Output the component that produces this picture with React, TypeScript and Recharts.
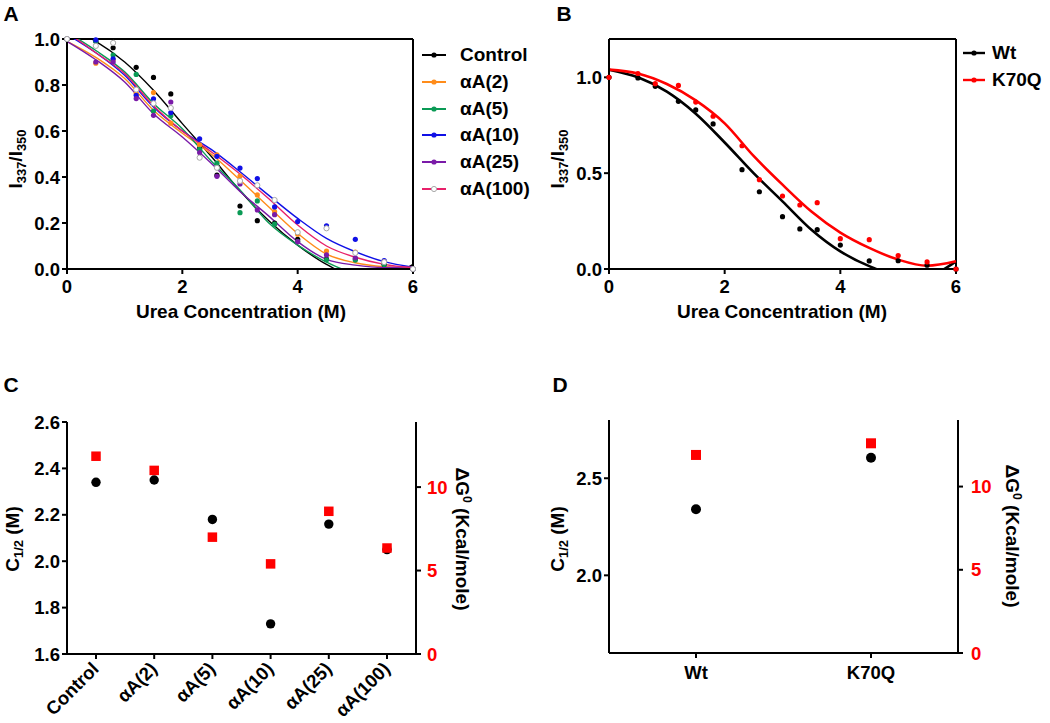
import React from 'react';
import { ComposedChart, Line, Scatter, XAxis, YAxis, ReferenceLine } from 'recharts';

const FONT = '"Liberation Sans", Arial, Helvetica, sans-serif';
const RED = '#ff0000';

// ---------- Panel A data ----------
const ureaA = [0, 0.5, 0.8, 1.2, 1.5, 1.8, 2.3, 2.6, 3.0, 3.3, 3.6, 4.0, 4.5, 5.0, 5.5, 6.0];
const controlA = [1.0, 0.99, 0.962, 0.877, 0.833, 0.761, 0.525, 0.408, 0.274, 0.21, 0.2, 0.129, 0.043, 0.043, 0.02, 0.0];
const aA2 = [1.0, 0.895, 0.91, 0.764, 0.767, 0.634, 0.54, 0.496, 0.404, 0.322, 0.25, 0.151, 0.078, 0.074, 0.03, 0.0];
const aA5 = [1.0, 0.99, 0.93, 0.846, 0.687, 0.666, 0.52, 0.46, 0.245, 0.296, 0.195, 0.12, 0.04, 0.039, 0.02, 0.0];
const aA10 = [1.0, 0.996, 0.914, 0.755, 0.74, 0.68, 0.566, 0.49, 0.439, 0.393, 0.27, 0.206, 0.188, 0.129, 0.037, 0.0];
const aA25 = [1.0, 0.9, 0.9, 0.741, 0.668, 0.726, 0.506, 0.403, 0.37, 0.257, 0.236, 0.119, 0.061, 0.049, 0.032, 0.0];
const aA100 = [1.0, 0.97, 0.983, 0.78, 0.72, 0.7, 0.484, 0.44, 0.383, 0.364, 0.3, 0.16, 0.177, 0.07, 0.03, 0.0];

const fitX = [0, 0.5, 1, 1.5, 2, 2.5, 3, 3.5, 4, 4.5, 5, 5.5, 6];
const controlFitA = [1.05, 0.99, 0.9, 0.777, 0.632, 0.49, 0.34, 0.21, 0.104, 0.02, -0.03, -0.03, 0.02];
const aA2Fit = [0.99, 0.92, 0.828, 0.69, 0.59, 0.5, 0.387, 0.27, 0.155, 0.065, 0.027, 0.01, 0.005];
const aA5Fit = [1.03, 0.95, 0.857, 0.72, 0.61, 0.47, 0.344, 0.2, 0.104, 0.03, -0.02, -0.04, -0.03];
const aA10Fit = [1.02, 0.94, 0.842, 0.704, 0.6, 0.52, 0.423, 0.32, 0.22, 0.133, 0.075, 0.032, 0.008];
const aA25Fit = [0.99, 0.91, 0.813, 0.675, 0.574, 0.46, 0.337, 0.23, 0.119, 0.042, 0.017, 0.007, 0.01];
const aA100Fit = [1.03, 0.94, 0.85, 0.71, 0.6, 0.51, 0.413, 0.305, 0.191, 0.1, 0.051, 0.02, 0.005];

const seriesNamesA = ['Control', 'αA(2)', 'αA(5)', 'αA(10)', 'αA(25)', 'αA(100)'];
const lineColorsA = ['#000000', '#ff8c1a', '#0a9a55', '#1010e6', '#7a1aa8', '#e8206a'];
const markerColorsA = ['#000000', '#ff8c1a', '#0a9a55', '#1010e6', '#7a1aa8', '#a8a8a8'];
const hollowA = [false, false, false, false, false, true];
const ptsA = [controlA, aA2, aA5, aA10, aA25, aA100];
const fitsA = [controlFitA, aA2Fit, aA5Fit, aA10Fit, aA25Fit, aA100Fit];

// ---------- Panel B data ----------
const ureaB = [0, 0.5, 0.8, 1.2, 1.5, 1.8, 2.3, 2.6, 3.0, 3.3, 3.6, 4.0, 4.5, 5.0, 5.5, 6.0];
const wtB = [1.0, 0.997, 0.953, 0.875, 0.83, 0.757, 0.518, 0.403, 0.273, 0.209, 0.205, 0.125, 0.042, 0.043, 0.02, 0.0];
const k70qB = [1.0, 1.02, 0.967, 0.958, 0.871, 0.797, 0.643, 0.466, 0.381, 0.334, 0.346, 0.158, 0.153, 0.07, 0.037, 0.0];
const wtFitB = [1.04, 1.0, 0.925, 0.81, 0.66, 0.5, 0.353, 0.205, 0.092, 0.015, -0.03, -0.03, 0.04];
const k70qFitB = [1.04, 1.02, 0.965, 0.88, 0.76, 0.59, 0.44, 0.3, 0.19, 0.11, 0.049, 0.017, 0.04];
const seriesNamesB = ['Wt', 'K70Q'];
const colorsB = ['#000000', RED];

// ---------- Panel C data ----------
const cCategories = ['Control', 'αA(2)', 'αA(5)', 'αA(10)', 'αA(25)', 'αA(100)'];
const cC12 = [2.34, 2.35, 2.18, 1.73, 2.16, 2.05];
const cDG = [11.85, 11.0, 7.0, 5.4, 8.55, 6.35];

// ---------- Panel D data ----------
const dCategories = ['Wt', 'K70Q'];
const dC12 = [2.34, 2.606];
const dDG = [11.9, 12.6];

const toPts = (xs: number[], ys: number[]) => xs.map((x, i) => ({ x, y: ys[i] }));

const axisLine = { stroke: '#000', strokeWidth: 2 };
const tickLine = { stroke: '#000', strokeWidth: 2 };
const tickFont = { fill: '#000', fontSize: 18.5, fontWeight: 700, fontFamily: FONT };
const redTickFont = { ...tickFont, fill: RED };

const dotShape = (r: number, fill: string, hollow = false) => (props: any) => (
  <circle
    cx={props.cx}
    cy={props.cy}
    r={r}
    fill={hollow ? '#ffffff' : fill}
    stroke={hollow ? fill : 'none'}
    strokeWidth={hollow ? 1 : 0}
  />
);
const squareShape = (s: number, fill: string) => (props: any) => (
  <rect x={props.cx - s / 2} y={props.cy - s / 2} width={s} height={s} fill={fill} />
);

const RotTick = (props: any) => {
  const { x, y, payload } = props;
  return (
    <g transform={`translate(${x + 4},${y + 9})`}>
      <text x={0} y={0} textAnchor="end" transform="rotate(-45)" fill="#000" fontSize={18.5} fontWeight={700} fontFamily={FONT}>
        {payload.value}
      </text>
    </g>
  );
};

const Txt = ({ cx, cy, rotate = 0, size = 19, color = '#000', children }: any) => (
  <div
    style={{
      position: 'absolute',
      left: cx,
      top: cy,
      transform: `translate(-50%,-50%) rotate(${rotate}deg)`,
      whiteSpace: 'nowrap',
      fontFamily: FONT,
      fontWeight: 700,
      fontSize: size,
      lineHeight: 1,
      color,
    }}
  >
    {children}
  </div>
);

const Sub = ({ children }: any) => (
  <span style={{ fontSize: '0.68em', position: 'relative', top: '0.3em' }}>{children}</span>
);
const Sup = ({ children }: any) => (
  <span style={{ fontSize: '0.65em', position: 'relative', top: '-0.55em' }}>{children}</span>
);

const LegendRow = ({ left, top, color, markerColor, hollow, label, lineW, strokeW, gap }: any) => (
  <div style={{ position: 'absolute', left, top, height: 20, display: 'flex', alignItems: 'center', transform: 'translateY(-50%)' }}>
    <svg width={lineW} height={10} style={{ display: 'block' }}>
      <line x1={0} y1={5} x2={lineW} y2={5} stroke={color} strokeWidth={strokeW} />
      <circle cx={lineW / 2} cy={5} r={2.6} fill={hollow ? '#fff' : markerColor} stroke={hollow ? markerColor : 'none'} strokeWidth={1} />
    </svg>
    <span style={{ marginLeft: gap, fontFamily: FONT, fontWeight: 700, fontSize: 19, color: '#000', whiteSpace: 'nowrap' }}>
      {label}
    </span>
  </div>
);

const cData = cCategories.map((name, i) => ({ name, c12: cC12[i], dg: cDG[i] }));
const dData = dCategories.map((name, i) => ({ name, c12: dC12[i], dg: dDG[i] }));

export default function App() {
  return (
    <div style={{ position: 'absolute', left: 0, top: 0, width: 1050, height: 723, background: '#fff', overflow: 'hidden' }}>
      {/* Panel A */}
      <div style={{ position: 'absolute', left: 0, top: 0 }}>
        <ComposedChart width={540} height={330} margin={{ top: 39, right: 127, bottom: 0, left: 27 }}>
          <XAxis type="number" dataKey="x" domain={[0, 6]} ticks={[0, 2, 4, 6]} height={61} axisLine={axisLine} tickLine={tickLine} tickSize={5} tickMargin={6} tick={tickFont} />
          <YAxis type="number" dataKey="y" domain={[0, 1]} ticks={[0, 0.2, 0.4, 0.6, 0.8, 1]} tickFormatter={(v: number) => v.toFixed(1)} width={40} axisLine={axisLine} tickLine={tickLine} tickSize={5} tickMargin={2} tick={tickFont} />
          <YAxis yAxisId="fit" type="number" dataKey="y" hide domain={[0, 1]} allowDataOverflow />
          <ReferenceLine y={1} stroke="#000" strokeWidth={2} />
          <ReferenceLine x={6} stroke="#000" strokeWidth={2} />
          {fitsA.map((f, i) => (
            <Line key={'fa' + i} yAxisId="fit" data={toPts(fitX, f)} dataKey="y" type="monotone" stroke={lineColorsA[i]} strokeWidth={1.4} dot={false} activeDot={false} isAnimationActive={false} />
          ))}
          {ptsA.map((p, i) => (
            <Scatter key={'pa' + i} data={toPts(ureaA, p)} dataKey="y" isAnimationActive={false} shape={dotShape(2.6, markerColorsA[i], hollowA[i])} />
          ))}
        </ComposedChart>
      </div>
      {seriesNamesA.map((n, i) => (
        <LegendRow key={n} left={422} top={55 + i * 26.8} color={lineColorsA[i]} markerColor={markerColorsA[i]} hollow={hollowA[i]} label={n} lineW={24} strokeW={2} gap={14} />
      ))}

      {/* Panel B */}
      <div style={{ position: 'absolute', left: 542, top: 0 }}>
        <ComposedChart width={508} height={330} margin={{ top: 39, right: 94, bottom: 0, left: 27 }}>
          <XAxis type="number" dataKey="x" domain={[0, 6]} ticks={[0, 2, 4, 6]} height={61} axisLine={axisLine} tickLine={tickLine} tickSize={5} tickMargin={6} tick={tickFont} />
          <YAxis type="number" dataKey="y" domain={[0, 1.2]} ticks={[0, 0.5, 1]} tickFormatter={(v: number) => v.toFixed(1)} width={40} axisLine={axisLine} tickLine={tickLine} tickSize={5} tickMargin={2} tick={tickFont} />
          <YAxis yAxisId="fit" type="number" dataKey="y" hide domain={[0, 1.2]} allowDataOverflow />
          <ReferenceLine y={1.2} stroke="#000" strokeWidth={2} />
          <ReferenceLine x={6} stroke="#000" strokeWidth={2} />
          <Line yAxisId="fit" data={toPts(fitX, wtFitB)} dataKey="y" type="monotone" stroke={colorsB[0]} strokeWidth={2.6} dot={false} activeDot={false} isAnimationActive={false} />
          <Line yAxisId="fit" data={toPts(fitX, k70qFitB)} dataKey="y" type="monotone" stroke={colorsB[1]} strokeWidth={2.6} dot={false} activeDot={false} isAnimationActive={false} />
          <Scatter data={toPts(ureaB, wtB)} dataKey="y" isAnimationActive={false} shape={dotShape(2.6, colorsB[0])} />
          <Scatter data={toPts(ureaB, k70qB)} dataKey="y" isAnimationActive={false} shape={dotShape(2.6, colorsB[1])} />
        </ComposedChart>
      </div>
      {seriesNamesB.map((n, i) => (
        <LegendRow key={n} left={963} top={53 + i * 27} color={colorsB[i]} markerColor={colorsB[i]} hollow={false} label={n} lineW={22} strokeW={2.4} gap={7} />
      ))}

      {/* Panel C */}
      <div style={{ position: 'absolute', left: 0, top: 400 }}>
        <ComposedChart width={520} height={323} data={cData} margin={{ top: 22, right: 64, bottom: 0, left: 27 }}>
          <XAxis dataKey="name" type="category" height={69} interval={0} padding={{ left: 29, right: 29 }} axisLine={axisLine} tickLine={tickLine} tickSize={5} tick={<RotTick />} />
          <XAxis xAxisId="top" orientation="top" dataKey="name" type="category" height={0} tick={false} tickLine={false} axisLine={axisLine} />
          <YAxis yAxisId="left" domain={[1.6, 2.6]} ticks={[1.6, 1.8, 2.0, 2.2, 2.4, 2.6]} tickFormatter={(v: number) => v.toFixed(1)} width={40} axisLine={axisLine} tickLine={tickLine} tickSize={5} tickMargin={2} tick={tickFont} />
          <YAxis yAxisId="right" orientation="right" domain={[0, 13.9]} ticks={[0, 5, 10]} width={40} axisLine={axisLine} tickLine={tickLine} tickSize={5} tickMargin={6} tick={redTickFont} />
          <Scatter yAxisId="left" dataKey="c12" isAnimationActive={false} shape={dotShape(4.7, '#000')} />
          <Scatter yAxisId="right" dataKey="dg" isAnimationActive={false} shape={squareShape(9.5, RED)} />
        </ComposedChart>
      </div>

      {/* Panel D */}
      <div style={{ position: 'absolute', left: 540, top: 400 }}>
        <ComposedChart width={510} height={323} data={dData} margin={{ top: 20, right: 52, bottom: 20, left: 29 }}>
          <XAxis dataKey="name" type="category" height={50} interval={0} padding={{ left: 87, right: 87 }} axisLine={axisLine} tickLine={tickLine} tickSize={5} tickMargin={8} tick={tickFont} />
          <XAxis xAxisId="top" orientation="top" dataKey="name" type="category" height={0} tick={false} tickLine={false} axisLine={axisLine} />
          <YAxis yAxisId="left" domain={[1.6, 2.8]} ticks={[2.0, 2.5]} tickFormatter={(v: number) => v.toFixed(1)} width={40} axisLine={axisLine} tickLine={tickLine} tickSize={5} tickMargin={2} tick={tickFont} />
          <YAxis yAxisId="right" orientation="right" domain={[0, 14]} ticks={[0, 5, 10]} width={40} axisLine={axisLine} tickLine={tickLine} tickSize={5} tickMargin={8} tick={redTickFont} />
          <Scatter yAxisId="left" dataKey="c12" isAnimationActive={false} shape={dotShape(5, '#000')} />
          <Scatter yAxisId="right" dataKey="dg" isAnimationActive={false} shape={squareShape(10, RED)} />
        </ComposedChart>
      </div>

      {/* Panel letters */}
      <Txt cx={11} cy={13} size={21}>A</Txt>
      <Txt cx={564} cy={13} size={21}>B</Txt>
      <Txt cx={11} cy={384} size={21}>C</Txt>
      <Txt cx={560} cy={384} size={21}>D</Txt>

      {/* Axis titles */}
      <Txt cx={15} cy={159} rotate={-90}>I<Sub>337</Sub>/I<Sub>350</Sub></Txt>
      <Txt cx={557} cy={159} rotate={-90}>I<Sub>337</Sub>/I<Sub>350</Sub></Txt>
      <Txt cx={241} cy={311}>Urea Concentration (M)</Txt>
      <Txt cx={782} cy={311}>Urea Concentration (M)</Txt>
      <Txt cx={12} cy={539} rotate={-90}>C<Sub>1/2</Sub> (M)</Txt>
      <Txt cx={557} cy={539} rotate={-90}>C<Sub>1/2</Sub> (M)</Txt>
      <Txt cx={462} cy={539} rotate={90}>ΔG<Sup>0</Sup> (Kcal/mole)</Txt>
      <Txt cx={1012} cy={536} rotate={90}>ΔG<Sup>0</Sup> (Kcal/mole)</Txt>
    </div>
  );
}
